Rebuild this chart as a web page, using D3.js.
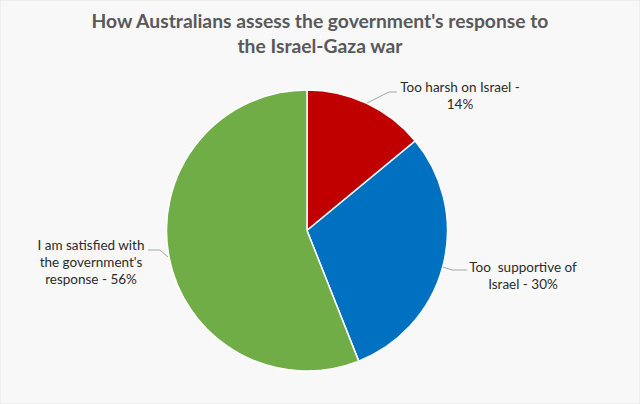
<!DOCTYPE html>
<html>
<head>
<meta charset="utf-8">
<script src="https://d3js.org/d3.v7.min.js"></script>
<style>
  html, body { margin: 0; padding: 0; background: #f8f8f8; }
  text { font-family: Lato, "Open Sans", sans-serif; }
</style>
</head>
<body>
<div id="chart"></div>
<script>
// data
const categories = ["Too harsh on Israel", "Too  supportive of Israel", "I am satisfied with the government's response"];
const values = [14, 30, 56];
const colors = ["#c00000", "#0070c0", "#70ad47"];
const labelLines = [
  ["Too harsh on Israel -", "14%"],
  ["Too  supportive of", "Israel - 30%"],
  ["I am satisfied with", "the government's", "response - 56%"]
];
const titleLines = ["How Australians assess the government's response to", "the Israel-Gaza war"];

const W = 640, H = 404;
const cx = 307, cy = 230.5, r = 140.5;

const svg = d3.select("#chart").append("svg")
  .attr("width", W).attr("height", H);

svg.append("rect").attr("width", W).attr("height", H)
  .attr("fill", "#f8f8f8").attr("stroke", "#e4e4e4");

svg.append("g").selectAll("text").data(titleLines).join("text")
  .attr("x", 320).attr("y", (d, i) => 28 + i * 25)
  .attr("text-anchor", "middle")
  .attr("font-size", "19.3px").attr("font-weight", "bold")
  .attr("fill", "#595959")
  .text(d => d);

const pie = d3.pie().sort(null).value(d => d);
const arcs = pie(values);
const arc = d3.arc().innerRadius(0).outerRadius(r);

const g = svg.append("g").attr("transform", `translate(${cx},${cy})`);
g.selectAll("path").data(arcs).join("path")
  .attr("d", arc)
  .attr("fill", (d, i) => colors[i])
  .attr("stroke", "#ffffff").attr("stroke-width", 1.5);

// label positions (centre of text block, first baseline) and leader line ends
const labelPos = [
  { x: 460, y: 92, line: [[367 - cx, 103 - cy], [389 - cx, 92 - cy], [397 - cx, 92 - cy]] },
  { x: 523, y: 272, line: [[443 - cx, 267 - cy], [452 - cx, 270 - cy], [467 - cx, 270 - cy]] },
  { x: 91, y: 250, line: [[168 - cx, 257 - cy], [160 - cx, 250 - cy], [148 - cx, 250 - cy]] }
];

labelPos.forEach((p, i) => {
  g.append("polyline")
    .attr("points", p.line.map(q => q.join(",")).join(" "))
    .attr("fill", "none").attr("stroke", "#a6a6a6").attr("stroke-width", 1);
  svg.append("g").selectAll("text").data(labelLines[i]).join("text")
    .attr("x", p.x).attr("y", (d, j) => p.y + j * 17)
    .attr("text-anchor", "middle")
    .attr("font-size", "13.5px")
    .attr("fill", "#2b2b2b")
    .style("white-space", "pre")
    .text(d => d);
});
</script>
</body>
</html>
